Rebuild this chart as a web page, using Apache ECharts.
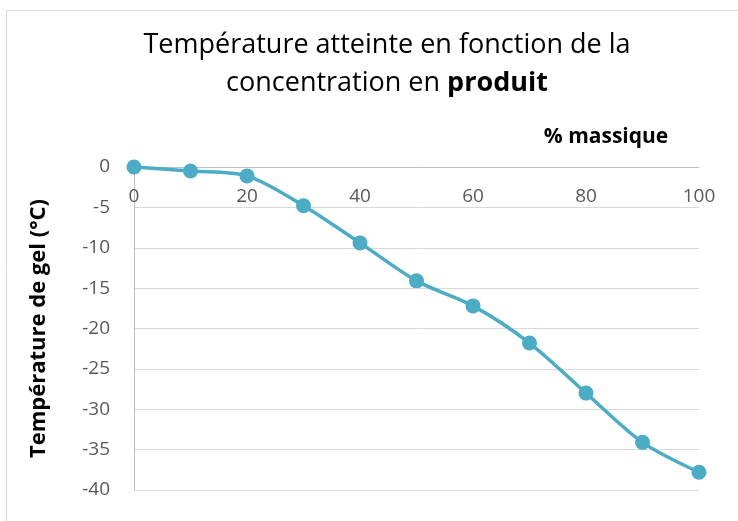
<!DOCTYPE html>
<html>
<head>
<meta charset="utf-8">
<script src="https://cdn.jsdelivr.net/npm/echarts@6/dist/echarts.min.js"></script>
<style>
html, body { margin: 0; padding: 0; background: #fff; }
#box { width: 738px; height: 521px; }
</style>
</head>
<body>
<div id="box"></div>
<script>
var mychart = echarts.init(document.getElementById("box"));

// % massique / température de gel (°C)
var concentrations = [0, 10, 20, 30, 40, 50, 60, 70, 80, 90, 100];
var tempGel = [0, -0.5, -1.1, -4.8, -9.4, -14.1, -17.2, -21.8, -28, -34.1, -37.8];

var titleLine1 = 'Température atteinte en fonction de la';
var titleLine2 = 'concentration en ';
var titleBold = 'produit';
var xName = '% massique';
var yName = 'Température de gel (°C)';

var points = concentrations.map(function (c, i) { return [c, tempGel[i]]; });

var font = '"Open Sans", sans-serif';

var options = {
    animation: false,
    grid: {
        left: 134,
        right: 39,
        top: 167,
        bottom: 31
    },
    graphic: [{
        type: 'rect',
        shape: { x: 6.5, y: 10.5, width: 800, height: 600 },
        style: { fill: 'none', stroke: '#d9d9d9', lineWidth: 1 }
    }, {
        type: 'text',
        x: 387,
        y: 26,
        style: {
            text: titleLine1 + '\n' + titleLine2 + '{b|' + titleBold + '}',
            textAlign: 'center',
            font: '27px ' + font,
            fill: '#000',
            lineHeight: 38,
            rich: {
                b: { fontWeight: 'bold', fontSize: 27, fontFamily: font, lineHeight: 38, fill: '#000' }
            }
        }
    }, {
        type: 'text',
        x: 606,
        y: 127,
        style: {
            text: xName,
            textAlign: 'center',
            font: 'bold 21px ' + font,
            fill: '#000'
        }
    }],
    xAxis: {
        type: 'value',
        position: 'top',
        min: 0,
        max: 100,
        interval: 20,
        axisLine: { show: true, onZero: false, lineStyle: { color: '#bfbfbf', width: 1 } },
        axisTick: { show: false },
        splitLine: { show: false },
        axisLabel: {
            inside: true,
            margin: 20,
            color: '#595959',
            fontSize: 19,
            fontFamily: font
        }
    },
    yAxis: {
        type: 'value',
        min: -40,
        max: 0,
        interval: 5,
        name: yName,
        nameLocation: 'middle',
        nameGap: 84,
        nameRotate: 90,
        nameTextStyle: { fontWeight: 'bold', fontSize: 22, fontFamily: font, color: '#000' },
        axisLine: { show: true, lineStyle: { color: '#bfbfbf', width: 1 } },
        axisTick: { show: false },
        splitLine: { show: true, lineStyle: { color: '#d9d9d9', width: 1 } },
        axisLabel: {
            margin: 24,
            color: '#595959',
            fontSize: 19,
            fontFamily: font
        }
    },
    series: [{
        type: 'line',
        smooth: 0.3,
        symbol: 'circle',
        symbolSize: 15,
        lineStyle: { color: '#4bacc6', width: 3.5 },
        itemStyle: { color: '#4bacc6' },
        data: points
    }]
};

mychart.setOption(options);
</script>
</body>
</html>
